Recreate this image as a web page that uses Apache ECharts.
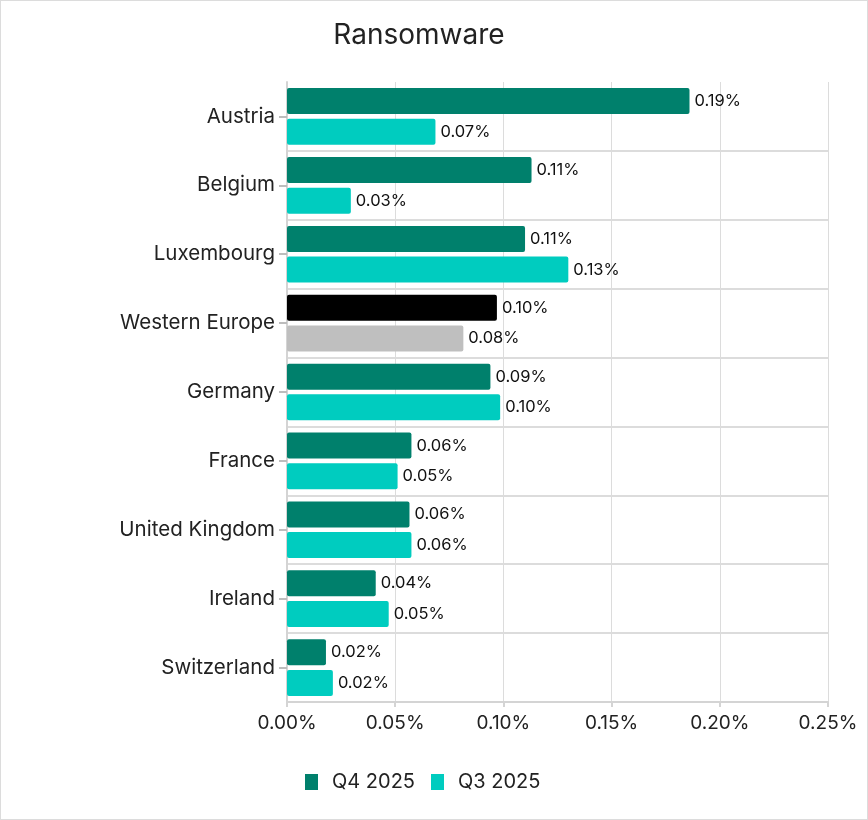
<!DOCTYPE html>
<html>
<head>
<meta charset="utf-8">
<script src="https://cdn.jsdelivr.net/npm/echarts@6/dist/echarts.min.js"></script>
<style>
html,body{margin:0;padding:0;background:#fff;}
#c{width:868px;height:820px;box-sizing:border-box;border:1px solid #dcdcdc;}
</style>
</head>
<body>
<div id="c"></div>
<script>
const categories = ['Austria','Belgium','Luxembourg','Western Europe','Germany','France','United Kingdom','Ireland','Switzerland'];
const q4Values = [0.186, 0.113, 0.110, 0.097, 0.094, 0.0575, 0.0566, 0.041, 0.018];
const q3Values = [0.0686, 0.0295, 0.130, 0.0815, 0.0985, 0.0511, 0.0575, 0.047, 0.0212];
const xTicks = [0, 0.05, 0.10, 0.15, 0.20, 0.25];
const highlightCategory = 'Western Europe';

const Q4C = '#00806c', Q3C = '#00ccbf';
const font = 'Inter, "Noto Sans", sans-serif';

function mk(vals, hl) {
  return vals.map((v, i) => categories[i] === highlightCategory ? {value: v, itemStyle: {color: hl}} : v);
}

const chart = echarts.init(document.getElementById('c'));
const labelCfg = {
  show: true, position: 'right', distance: 5,
  color: '#111', fontSize: 16.5, fontFamily: font,
  formatter: p => p.value.toFixed(2) + '%'
};
chart.setOption({
  animation: false,
  textStyle: {fontFamily: font},
  title: {
    text: 'Ransomware', left: 413, textAlign: 'center', top: 16,
    textStyle: {fontSize: 28, fontWeight: 'normal', color: '#222', fontFamily: font}
  },
  legend: {
    data: ['Q4 2025', 'Q3 2025'],
    bottom: 22, left: 299,
    itemWidth: 13, itemHeight: 16, itemGap: 16,
    icon: 'rect',
    textStyle: {fontSize: 20, color: '#222', fontFamily: font, padding: [0,0,0,9]}
  },
  grid: {left: 286, right: 39, top: 81, bottom: 117, containLabel: false},
  xAxis: {
    type: 'value', min: 0, max: 0.25, interval: 0.05,
    axisLine: {show: true, lineStyle: {color: '#d4d4d4', width: 2}},
    axisTick: {show: true, length: 5, lineStyle: {color: '#d4d4d4', width: 2}},
    splitLine: {show: true, lineStyle: {color: '#dcdcdc', width: 1}},
    axisLabel: {
      fontSize: 19, color: '#222', fontFamily: font, margin: 12,
      formatter: v => { const t = xTicks.find(x => Math.abs(x - v) < 1e-9); return (t !== undefined ? t : v).toFixed(2) + '%'; }
    }
  },
  yAxis: {
    type: 'category', data: categories, inverse: true,
    axisLine: {show: true, lineStyle: {color: '#d4d4d4', width: 2}},
    axisTick: {show: true, alignWithLabel: true, length: 8, lineStyle: {color: '#bdbdbd', width: 2}},
    splitLine: {show: true, showMinLine: false, lineStyle: {color: '#dcdcdc', width: 2}},
    axisLabel: {fontSize: 20.5, color: '#222', fontFamily: font, margin: 12, padding: [6,0,0,0]}
  },
  series: [
    {name: 'Q4 2025', type: 'bar', data: mk(q4Values, '#000000'), barWidth: 26, barGap: '18%',
     itemStyle: {color: Q4C, borderRadius: 2}, label: labelCfg},
    {name: 'Q3 2025', type: 'bar', data: mk(q3Values, '#bfbfbf'), barWidth: 26, barGap: '18%',
     itemStyle: {color: Q3C, borderRadius: 2}, label: labelCfg}
  ]
});
</script>
</body>
</html>
